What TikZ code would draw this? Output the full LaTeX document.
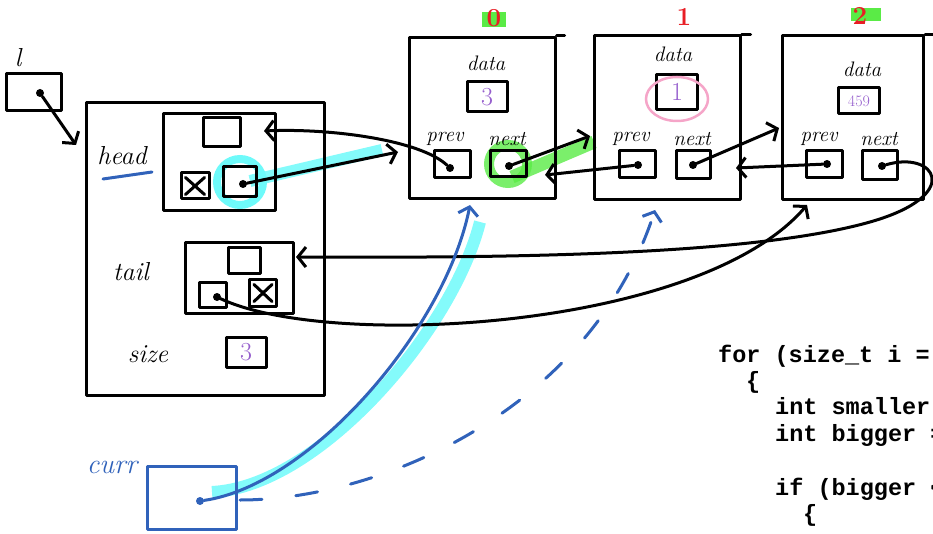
\documentclass[tikz,border=0pt]{standalone}
\usepackage{fontspec}
\setmonofont{Liberation Mono}
\usetikzlibrary{arrows.meta,backgrounds}

\definecolor{rosso}{RGB}{232,30,37}
\definecolor{viola}{RGB}{150,95,205}
\definecolor{blu}{RGB}{48,98,186}
\definecolor{ciano}{RGB}{110,250,250}
\definecolor{verde}{RGB}{90,235,70}
\definecolor{rosa}{RGB}{245,165,200}

\tikzset{
    ink/.style={line width=3pt, line cap=round, line join=round},
    cella/.style={draw, ink, inner sep=0pt},
    punto/.style={circle, fill, inner sep=0pt, minimum size=8pt},
    ptr/.style={ink, -{Straight Barb[length=8pt,width=20pt]}},
    etich/.style={font=\itshape\fontsize{21}{21}\selectfont},
    nome/.style={font=\itshape\fontsize{26}{26}\selectfont},
    indice/.style={text=rosso, font=\bfseries\fontsize{26}{26}\selectfont},
    valore/.style={text=viola, font=\fontsize{26}{26}\selectfont},
    codice/.style={anchor=base west, inner sep=0pt, font=\ttfamily\bfseries\fontsize{23.5}{26}\selectfont}
}

\begin{document}
\begin{tikzpicture}[x=1pt,y=-1pt]
    \clip (0,0) rectangle (933,534);

    % Variabile l
    \node[nome] (lname) at (18,58) {l};
    \node[cella, minimum width=55pt, minimum height=37pt] (lvar) at (34,92) {};
    \node[punto] (ldot) at (40,93) {};
    \coordinate (lin) at (76,145);

    % Struttura lista
    \node[cella, minimum width=238pt, minimum height=292pt] (lst) at (205,249) {};

    % Campo head
    \node[nome] (headname) at (122,156) {head};
    \draw[ink, blu] (103,179) -- (152,172);
    \node[cella, minimum width=112pt, minimum height=97pt] (hd) at (219,162) {};
    \node[cella, minimum width=37pt, minimum height=29pt] (hdtop) at (222,132) {};
    \node[cella, minimum width=28pt, minimum height=26pt] (hdx) at (195,186) {};
    \draw[ink] ([shift={(6,6)}]hdx.north west) -- ([shift={(-6,-6)}]hdx.south east);
    \draw[ink] ([shift={(-6,6)}]hdx.north east) -- ([shift={(6,-6)}]hdx.south west);
    \node[cella, minimum width=33pt, minimum height=30pt] (hdp) at (240,182) {};
    \node[punto] (hddot) at (243,184) {};
    \coordinate (hdin) at (264,131);

    % Campo tail
    \node[nome] (tailname) at (131,272) {tail};
    \node[cella, minimum width=108pt, minimum height=71pt] (tl) at (239,278) {};
    \node[cella, minimum width=32pt, minimum height=26pt] (tltop) at (244,261) {};
    \node[cella, minimum width=27pt, minimum height=25pt] (tlp) at (213,295) {};
    \node[punto] (tldot) at (217,297) {};
    \node[cella, minimum width=27pt, minimum height=26pt] (tlx) at (263,293) {};
    \draw[ink] ([shift={(6,6)}]tlx.north west) -- ([shift={(-6,-6)}]tlx.south east);
    \draw[ink] ([shift={(-6,6)}]tlx.north east) -- ([shift={(6,-6)}]tlx.south west);
    \coordinate (tlin) at (296,257);

    % Campo size
    \node[nome] (sizename) at (148,354) {size};
    \node[cella, valore, minimum width=40pt, minimum height=30pt] (sz) at (246,352) {3};

    % Nodo 0
    \node[indice] (i0) at (494,18) {0};
    \node[cella, minimum width=146pt, minimum height=161pt] (n0) at (482,118) {};
    \draw[ink] (n0.north east) -- ++(8,0);
    \node[etich] (data0) at (486,63) {data};
    \node[cella, valore, minimum width=40pt, minimum height=30pt] (d0) at (487,97) {3};
    \node[etich] (prev0) at (445,139) {prev};
    \node[cella, minimum width=36pt, minimum height=27pt] (p0) at (452,164) {};
    \node[punto] (p0dot) at (450,168) {};
    \node[etich] (next0) at (507,139) {next};
    \node[cella, minimum width=36pt, minimum height=26pt] (x0) at (508,164) {};
    \node[punto] (x0dot) at (509,166) {};
    \coordinate (n0in) at (398,152);
    \coordinate (n0out) at (545,175);
    \coordinate (n0bot) at (470,205);

    % Nodo 1
    \node[indice] (i1) at (684,17) {1};
    \node[cella, minimum width=146pt, minimum height=164pt] (n1) at (667,118) {};
    \draw[ink] (n1.north east) -- ++(9,0);
    \node[etich] (data1) at (673,54) {data};
    \node[cella, valore, minimum width=41pt, minimum height=35pt] (d1) at (677,92) {1};
    \draw[rosa, line width=2.5pt] (677,99) ellipse (31 and 22);
    \node[etich] (prev1) at (631,139) {prev};
    \node[cella, minimum width=36pt, minimum height=27pt] (p1) at (637,164) {};
    \node[punto] (p1dot) at (638,165) {};
    \node[etich] (next1) at (692,139) {next};
    \node[cella, minimum width=34pt, minimum height=28pt] (x1) at (693,165) {};
    \node[punto] (x1dot) at (693,165) {};
    \coordinate (n1in) at (590,136);
    \coordinate (n1out) at (736,168);
    \coordinate (n1bot) at (655,210);

    % Nodo 2
    \node[indice] (i2) at (860,16) {2};
    \node[cella, minimum width=141pt, minimum height=164pt] (n2) at (853,118) {};
    \draw[ink] (n2.north east) -- ++(12,0);
    \node[etich] (data2) at (862,69) {data};
    \node[cella, valore, font=\fontsize{16}{16}\selectfont, minimum width=41pt, minimum height=26pt] (d2) at (859,101) {459};
    \node[etich] (prev2) at (819,139) {prev};
    \node[cella, minimum width=36pt, minimum height=27pt] (p2) at (824,164) {};
    \node[punto] (p2dot) at (827,164) {};
    \node[etich] (next2) at (879,139) {next};
    \node[cella, minimum width=35pt, minimum height=29pt] (x2) at (880,165) {};
    \node[punto] (x2dot) at (882,166) {};
    \coordinate (n2in) at (779,128);
    \coordinate (n2bot) at (807,205);

    % Variabile curr
    \node[nome, text=blu, font=\itshape\fontsize{28}{28}\selectfont] (currname) at (112,467) {curr};
    \node[cella, draw=blu, minimum width=89pt, minimum height=63pt] (curr) at (192,498) {};
    \node[punto, fill=blu] (cdot) at (200,501) {};
    \coordinate (cright) at (240,500);

    % Puntatori
    \draw[ptr] (ldot) -- (lin);
    \draw[ptr] (hddot) -- (n0in);
    \draw[ptr] (p0dot) .. controls (420,140) and (330,128) .. (hdin);
    \draw[ptr] (x0dot) -- (n1in);
    \draw[ptr] (p1dot) -- (n0out);
    \draw[ptr] (x1dot) -- (n2in);
    \draw[ptr] (p2dot) -- (n1out);
    \draw[ptr] (x2dot) .. controls (935,150) and (965,195) .. (870,222)
        .. controls (750,256) and (500,258) .. (tlin);
    \draw[ptr] (tldot) .. controls (330,350) and (700,330) .. (n2bot);
    \draw[ptr, blu] (cdot) .. controls (310,485) and (445,330) .. (n0bot);
    \draw[ptr, blu, dash pattern=on 22pt off 34pt] (cright) .. controls (380,500) and (590,410) .. (n1bot);

    % Evidenziatore
    \begin{scope}[on background layer]
        \fill[verde] (482,12) rectangle (506,27);
        \fill[verde] (851,8) rectangle (881,21);
        \draw[ciano, line width=8pt] (hdp) circle (23);
        \draw[ciano, line width=12pt, opacity=0.85] (250,181) -- (382,150);
        \draw[verde, line width=10pt, opacity=0.8] (x0) circle (19);
        \draw[verde, line width=13pt, opacity=0.8] (512,177) -- (594,142);
        \draw[ciano, line width=12pt, opacity=0.85] (212,492) .. controls (318,487) and (452,332) .. (480,222);
    \end{scope}

    % Codice
    \node[codice] (c1) at (718,362) {for (size\_t i =};
    \node[codice] (c2) at (746,388) {\{};
    \node[codice] (c3) at (775,414) {int smaller};
    \node[codice] (c4) at (775,441) {int bigger =};
    \node[codice] (c5) at (775,495) {if (bigger <};
    \node[codice] (c6) at (803,521) {\{};
\end{tikzpicture}
\end{document}
